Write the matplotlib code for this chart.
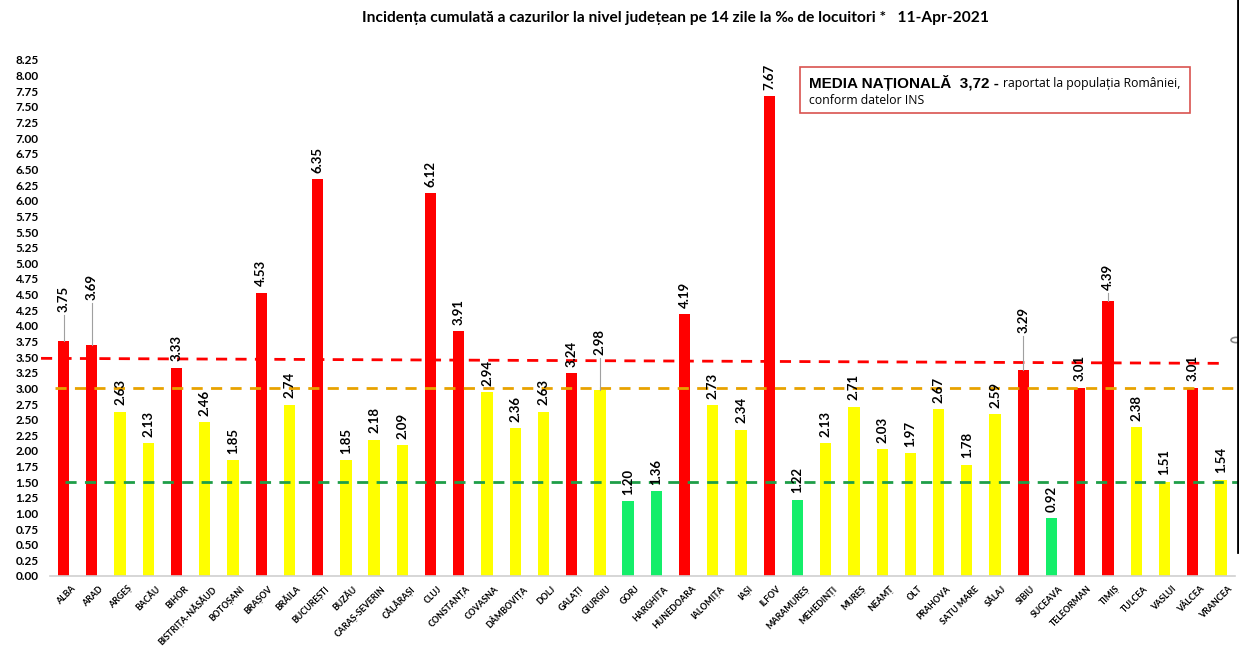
import matplotlib
matplotlib.use("Agg")
import matplotlib.pyplot as plt
from matplotlib.lines import Line2D
from matplotlib.patches import Rectangle, Circle
from matplotlib.transforms import ScaledTranslation

plt.rcParams['font.family'] = ['Lato', 'DejaVu Sans']

counties = ["ALBA", "ARAD", "ARGEȘ", "BACĂU", "BIHOR", "BISTRIȚA-NĂSĂUD", "BOTOȘANI",
            "BRAȘOV", "BRĂILA", "BUCUREȘTI", "BUZĂU", "CARAȘ-SEVERIN", "CĂLĂRAȘI",
            "CLUJ", "CONSTANȚA", "COVASNA", "DÂMBOVIȚA", "DOLJ", "GALAȚI", "GIURGIU",
            "GORJ", "HARGHITA", "HUNEDOARA", "IALOMIȚA", "IAȘI", "ILFOV", "MARAMUREȘ",
            "MEHEDINȚI", "MUREȘ", "NEAMȚ", "OLT", "PRAHOVA", "SATU MARE", "SĂLAJ",
            "SIBIU", "SUCEAVA", "TELEORMAN", "TIMIȘ", "TULCEA", "VASLUI", "VÂLCEA",
            "VRANCEA"]
values = [3.75, 3.69, 2.63, 2.13, 3.33, 2.46, 1.85, 4.53, 2.74, 6.35, 1.85, 2.18,
          2.09, 6.12, 3.91, 2.94, 2.36, 2.63, 3.24, 2.98, 1.20, 1.36, 4.19, 2.73,
          2.34, 7.67, 1.22, 2.13, 2.71, 2.03, 1.97, 2.67, 1.78, 2.59, 3.29, 0.92,
          3.01, 4.39, 2.38, 1.51, 3.01, 1.54]
red_threshold = 3.0
green_threshold = 1.5
ref_red = (3.48, 3.40)     # slightly sloped red reference line (left, right)
ref_orange = 3.0
ref_green = 1.5
yticks = [i * 0.25 for i in range(34)]
title = "Incidența cumulată a cazurilor la nivel județean pe 14 zile la ‰ de locuitori *   11-Apr-2021"

RED = "#FF0000"
YELLOW = "#FFFF00"
GREEN = "#14EE6A"
colors = [RED if v >= red_threshold else (YELLOW if v >= green_threshold else GREEN)
          for v in values]

# label lifts (layout): index -> label base value
label_lift = {0: 4.22, 1: 4.41, 19: 3.53, 34: 3.88, 37: 4.57}

W, H = 1239, 651
fig = plt.figure(figsize=(W / 100, H / 100), dpi=100)
ax_left, ax_right = 49.5 / W, 1235 / W
ax_bottom = 1 - 576 / H
ax_top = 1 - 60 / H
ax = fig.add_axes([ax_left, ax_bottom, ax_right - ax_left, ax_top - ax_bottom])

x = list(range(len(values)))
ax.bar(x, values, width=0.4, color=colors, zorder=2)
ax.set_xlim(-0.5, len(values) - 0.5)
ax.set_ylim(0, 8.25)

ax.set_yticks(yticks)
ax.set_yticklabels([f"{t:.2f}" for t in yticks], fontsize=8.5, fontweight='bold')
ax.set_xticks(x)
ax.set_xticklabels(counties, rotation=45, ha='right', rotation_mode='anchor',
                   fontsize=6.3, fontweight='bold')
ax.tick_params(axis='x', length=0, pad=6)
ax.tick_params(axis='y', length=0, pad=8)
offset = ScaledTranslation(7 / 100, 0, fig.dpi_scale_trans)
for lab in ax.get_xticklabels():
    lab.set_transform(lab.get_transform() + offset)
for s in ['top', 'right', 'left']:
    ax.spines[s].set_visible(False)
ax.spines['bottom'].set_color('#D0D0D0')
ax.spines['bottom'].set_linewidth(1.2)

# reference lines
ax.plot([-0.8, 41.5 - 0.5], list(ref_red), color=RED, lw=2, ls=(0, (4, 3)),
        zorder=3, clip_on=False)
ax.plot([-0.3, 41.6], [ref_orange, ref_orange], color="#E8A200", lw=2,
        ls=(0, (4, 3)), zorder=3, clip_on=False)
ax.plot([0.05, 41.6], [ref_green, ref_green], color="#1E9E48", lw=2,
        ls=(0, (4, 3)), zorder=3, clip_on=False)

# value labels
for i, v in enumerate(values):
    base = label_lift.get(i, v + 0.1)
    if i in label_lift:
        ax.plot([i, i], [v, base - 0.05], color='#A0A0A0', lw=0.8, zorder=4)
    ax.text(i, base, f"{v:.2f}", rotation=90, ha='center', va='bottom',
            fontsize=9.5, fontweight='bold', zorder=5, clip_on=False)

# title
fig.text(675 / W, 1 - 18 / H, title, ha='center', va='center', fontsize=11.2,
         fontweight='bold', family=['Lato', 'DejaVu Sans'])

# national average box
fig.add_artist(Rectangle((800 / W, 1 - 113 / H), 390 / W, 46 / H,
                         transform=fig.transFigure, fill=False,
                         edgecolor='#D9534F', lw=1.2))
t1 = fig.text(809 / W, 1 - 83 / H, "MEDIA NAȚIONALĂ  3,72 - ", fontsize=11,
              fontweight='bold', family=['Liberation Sans', 'DejaVu Sans'],
              va='center', ha='left')
fig.canvas.draw()
bb = t1.get_window_extent(renderer=fig.canvas.get_renderer())
fig.text(bb.x1 / W, 1 - 83 / H, "raportat la populația României,", fontsize=8.8,
         va='center', ha='left', family=['Open Sans', 'DejaVu Sans'])
fig.text(809 / W, 1 - 101 / H, "conform datelor INS", fontsize=8.8,
         va='center', ha='left', family=['Open Sans', 'DejaVu Sans'])

# screenshot artifacts: right border and handle
fig.add_artist(Line2D([1237.5 / W, 1237.5 / W], [1 - 552 / H, 1.0],
                      transform=fig.transFigure, color='black', lw=2))
fig.add_artist(Circle((1236 / W, 1 - 340 / H), 5 / W, transform=fig.transFigure,
                      facecolor='white', edgecolor='#888888', lw=1.2))

fig.savefig("out.png", dpi=100)
